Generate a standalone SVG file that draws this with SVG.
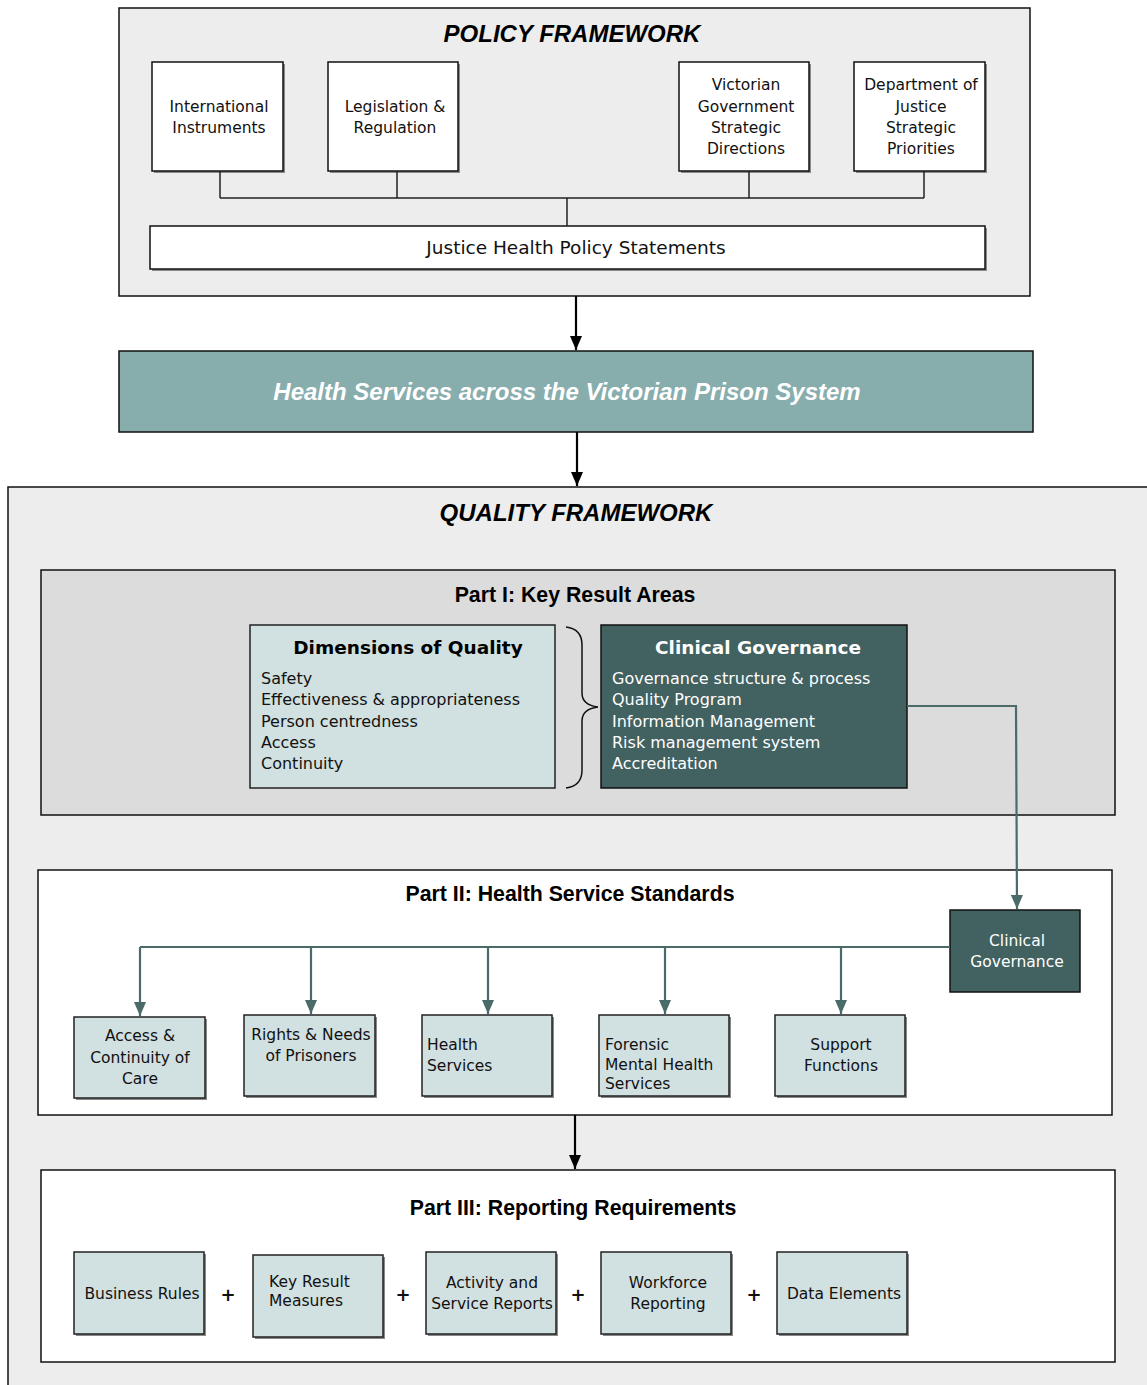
<svg xmlns="http://www.w3.org/2000/svg" width="1147" height="1385" viewBox="0 0 1147 1385">
<defs>
<style>
.frame{fill:#ededed;stroke:#111;stroke-width:1.5}
.box{fill:#fff;stroke:#111;stroke-width:1.5}
.lt{fill:#d1e0e0;stroke:#222;stroke-width:1.5}
.dk{fill:#426161;stroke:#111;stroke-width:1.5}
.sh{fill:#8a8a8a}
.t{font-family:"DejaVu Sans",Verdana,sans-serif;font-size:15.5px;fill:#111}
.tw{font-family:"DejaVu Sans",Verdana,sans-serif;font-size:15.5px;fill:#fff}
.c{text-anchor:middle}
.h1{font-family:"Liberation Sans",Arial,sans-serif;font-weight:bold;font-style:italic;font-size:24px;fill:#000;text-anchor:middle}
.h2{font-family:"Liberation Sans",Arial,sans-serif;font-weight:bold;font-size:21.3px;fill:#000;text-anchor:middle}
.blk{stroke:#000;stroke-width:2.2;fill:none}
.thin{stroke:#222;stroke-width:1.5;fill:none}
.teal{stroke:#4b6a6a;stroke-width:2.2;fill:none}
.plus{font-family:"DejaVu Sans",Verdana,sans-serif;font-size:18px;font-weight:bold;fill:#111;text-anchor:middle}
</style>
<marker id="ab" viewBox="0 0 14 12" refX="14" refY="6" markerWidth="14" markerHeight="12" markerUnits="userSpaceOnUse" orient="auto">
<path d="M0,0 L14,6 L0,12 Z" fill="#000"/>
</marker>
<marker id="at" viewBox="0 0 14 12" refX="14" refY="6" markerWidth="14" markerHeight="12" markerUnits="userSpaceOnUse" orient="auto">
<path d="M0,0 L14,6 L0,12 Z" fill="#4b6a6a"/>
</marker>
</defs>

<rect x="0" y="0" width="1147" height="1385" fill="#fff"/>

<!-- Policy framework -->
<g id="policy-framework">
<rect class="frame" x="119" y="8" width="911" height="288"/>
<text class="h1" x="572" y="42">POLICY FRAMEWORK</text>
</g>
<g id="international">
<rect class="sh" x="154" y="64" width="131" height="109"/>
<rect class="box" x="152" y="62" width="131" height="109"/>
<text class="t c" x="219" y="112">International</text>
<text class="t c" x="219" y="133">Instruments</text>
</g>
<g id="legislation">
<rect class="sh" x="330" y="64" width="130" height="109"/>
<rect class="box" x="328" y="62" width="130" height="109"/>
<text class="t c" x="395" y="112">Legislation &amp;</text>
<text class="t c" x="395" y="133">Regulation</text>
</g>
<g id="victorian">
<rect class="sh" x="681" y="64" width="130" height="109"/>
<rect class="box" x="679" y="62" width="130" height="109"/>
<text class="t c" x="746" y="90">Victorian</text>
<text class="t c" x="746" y="112">Government</text>
<text class="t c" x="746" y="133">Strategic</text>
<text class="t c" x="746" y="154">Directions</text>
</g>
<g id="department">
<rect class="sh" x="856" y="64" width="131" height="109"/>
<rect class="box" x="854" y="62" width="131" height="109"/>
<text class="t c" x="921" y="90">Department of</text>
<text class="t c" x="921" y="112">Justice</text>
<text class="t c" x="921" y="133">Strategic</text>
<text class="t c" x="921" y="154">Priorities</text>
</g>
<g id="justice-health">
<rect class="sh" x="152" y="228" width="835" height="43"/>
<rect class="box" x="150" y="226" width="835" height="43"/>
<text class="t c" x="576" y="254" style="font-size:18.5px">Justice Health Policy Statements</text>
</g>

<g id="banner">
<rect x="119" y="351" width="914" height="81" fill="#88adad" stroke="#111" stroke-width="1.5"/>
<text class="h1" x="567" y="400" style="fill:#fff">Health Services across the Victorian Prison System</text>
</g>

<!-- Quality framework -->
<g id="quality-framework">
<rect class="frame" x="8" y="487" width="1150" height="910"/>
<text class="h1" x="576" y="521">QUALITY FRAMEWORK</text>
</g>

<g id="part1">
<rect x="41" y="570" width="1074" height="245" fill="#dcdcdc" stroke="#111" stroke-width="1.5"/>
<text class="h2" x="575" y="602">Part I: Key Result Areas</text>
</g>
<g id="dimensions">
<rect class="lt" x="250" y="625" width="305" height="163"/>
<text class="c" x="408" y="654" style="font-family:'DejaVu Sans',Verdana,sans-serif;font-weight:bold;font-size:18.5px;fill:#000">Dimensions of Quality</text>
<text class="t" x="261" y="684" style="font-size:16px">Safety</text>
<text class="t" x="261" y="705" style="font-size:16px">Effectiveness &amp; appropriateness</text>
<text class="t" x="261" y="727" style="font-size:16px">Person centredness</text>
<text class="t" x="261" y="748" style="font-size:16px">Access</text>
<text class="t" x="261" y="769" style="font-size:16px">Continuity</text>
</g>
<g id="brace">
<path d="M566,627 Q582,629 582,645 L582,693 Q582,705 598,707 Q582,709 582,721 L582,770 Q582,786 566,788" fill="none" stroke="#111" stroke-width="1.5"/>
</g>
<g id="clinical-governance">
<rect class="dk" x="601" y="625" width="306" height="163"/>
<text class="c" x="758" y="654" style="font-family:'DejaVu Sans',Verdana,sans-serif;font-weight:bold;font-size:18.5px;fill:#fff">Clinical Governance</text>
<text class="tw" x="612" y="684" style="font-size:16px">Governance structure &amp; process</text>
<text class="tw" x="612" y="705" style="font-size:16px">Quality Program</text>
<text class="tw" x="612" y="727" style="font-size:16px">Information Management</text>
<text class="tw" x="612" y="748" style="font-size:16px">Risk management system</text>
<text class="tw" x="612" y="769" style="font-size:16px">Accreditation</text>
</g>

<g id="part2">
<rect x="38" y="870" width="1074" height="245" fill="#fff" stroke="#111" stroke-width="1.5"/>
<text class="h2" x="570" y="901">Part II: Health Service Standards</text>
</g>
<g id="cg-small">
<rect class="dk" x="950" y="910" width="130" height="82"/>
<text class="tw c" x="1017" y="946">Clinical</text>
<text class="tw c" x="1017" y="967">Governance</text>
</g>
<g id="access">
<rect class="sh" x="76" y="1019" width="131" height="81"/>
<rect class="lt" x="74" y="1017" width="131" height="81"/>
<text class="t c" x="140" y="1041">Access &amp;</text>
<text class="t c" x="140" y="1063">Continuity of</text>
<text class="t c" x="140" y="1084">Care</text>
</g>
<g id="rights">
<rect class="sh" x="246" y="1017" width="131" height="81"/>
<rect class="lt" x="244" y="1015" width="131" height="81"/>
<text class="t c" x="311" y="1040">Rights &amp; Needs</text>
<text class="t c" x="311" y="1061">of Prisoners</text>
</g>
<g id="health-services">
<rect class="sh" x="424" y="1017" width="130" height="81"/>
<rect class="lt" x="422" y="1015" width="130" height="81"/>
<text class="t" x="427" y="1050">Health</text>
<text class="t" x="427" y="1071">Services</text>
</g>
<g id="forensic">
<rect class="sh" x="601" y="1017" width="130" height="81"/>
<rect class="lt" x="599" y="1015" width="130" height="81"/>
<text class="t" x="605" y="1050">Forensic</text>
<text class="t" x="605" y="1070">Mental Health</text>
<text class="t" x="605" y="1089">Services</text>
</g>
<g id="support">
<rect class="sh" x="777" y="1017" width="130" height="81"/>
<rect class="lt" x="775" y="1015" width="130" height="81"/>
<text class="t c" x="841" y="1050">Support</text>
<text class="t c" x="841" y="1071">Functions</text>
</g>

<g id="part3">
<rect x="41" y="1170" width="1074" height="192" fill="#fff" stroke="#111" stroke-width="1.5"/>
<text class="h2" x="573" y="1215">Part III: Reporting Requirements</text>
<text class="plus" x="228" y="1301">+</text>
<text class="plus" x="403" y="1301">+</text>
<text class="plus" x="578" y="1301">+</text>
<text class="plus" x="754" y="1301">+</text>
</g>
<g id="business-rules">
<rect class="sh" x="76" y="1254" width="130" height="82"/>
<rect class="lt" x="74" y="1252" width="130" height="82"/>
<text class="t c" x="142" y="1299">Business Rules</text>
</g>
<g id="key-result">
<rect class="sh" x="255" y="1257" width="130" height="82"/>
<rect class="lt" x="253" y="1255" width="130" height="82"/>
<text class="t" x="269" y="1287">Key Result</text>
<text class="t" x="269" y="1306">Measures</text>
</g>
<g id="activity">
<rect class="sh" x="428" y="1254" width="130" height="82"/>
<rect class="lt" x="426" y="1252" width="130" height="82"/>
<text class="t c" x="492" y="1288">Activity and</text>
<text class="t c" x="492" y="1309">Service Reports</text>
</g>
<g id="workforce">
<rect class="sh" x="603" y="1254" width="130" height="82"/>
<rect class="lt" x="601" y="1252" width="130" height="82"/>
<text class="t c" x="668" y="1288">Workforce</text>
<text class="t c" x="668" y="1309">Reporting</text>
</g>
<g id="data-elements">
<rect class="sh" x="779" y="1254" width="130" height="82"/>
<rect class="lt" x="777" y="1252" width="130" height="82"/>
<text class="t c" x="844" y="1299">Data Elements</text>
</g>

<!-- connectors -->
<g id="connectors">
<path class="thin" d="M220,171 V198 M397,171 V198 M749,171 V198 M924,171 V198 M220,198 H924 M567,198 V226"/>
<line class="blk" x1="576" y1="296" x2="576" y2="350" marker-end="url(#ab)"/>
<line class="blk" x1="577" y1="432" x2="577" y2="486" marker-end="url(#ab)"/>
<polyline class="teal" points="907,706 1016,706 1017,909" marker-end="url(#at)"/>
<line class="teal" x1="140" y1="947" x2="950" y2="947"/>
<line class="teal" x1="140" y1="947" x2="140" y2="1016" marker-end="url(#at)"/>
<line class="teal" x1="311" y1="947" x2="311" y2="1014" marker-end="url(#at)"/>
<line class="teal" x1="488" y1="947" x2="488" y2="1014" marker-end="url(#at)"/>
<line class="teal" x1="665" y1="947" x2="665" y2="1014" marker-end="url(#at)"/>
<line class="teal" x1="841" y1="947" x2="841" y2="1014" marker-end="url(#at)"/>
<line class="blk" x1="575" y1="1115" x2="575" y2="1169" marker-end="url(#ab)"/>
</g>
</svg>
